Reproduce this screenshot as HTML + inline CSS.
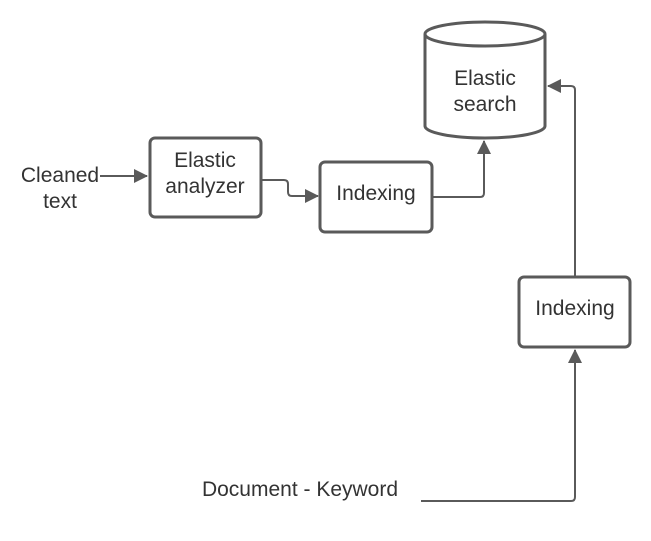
<!DOCTYPE html>
<html><head><style>body{margin:0;background:#fff}svg{display:block}</style></head><body>
<svg width="651" height="541" viewBox="0 0 651 541" xmlns="http://www.w3.org/2000/svg" font-family="Liberation Sans, sans-serif" font-size="21" fill="#333">
<defs><marker id="b" markerWidth="14" markerHeight="14" refX="13" refY="7" orient="auto" markerUnits="userSpaceOnUse"><path d="M0,0 L14,7 L0,14z" fill="#5a5a5a"/></marker></defs>
<g fill="none" stroke="#5a5a5a" stroke-width="2">
<path d="M100,176 L147,176" marker-end="url(#b)"/>
<path d="M262,180 L284,180 Q288,180 288,184 L288,192 Q288,196 292,196 L318,196" marker-end="url(#b)"/>
<path d="M433,197 L480,197 Q484,197 484,193 L484,141" marker-end="url(#b)"/>
<path d="M575,276 L575,90 Q575,86 571,86 L548,86" marker-end="url(#b)"/>
<path d="M421,501 L571,501 Q575,501 575,497 L575,350" marker-end="url(#b)"/>
</g>
<g fill="#fff" stroke="#5a5a5a" stroke-width="3">
<rect x="150" y="138" width="111" height="79" rx="5"/>
<rect x="320" y="162" width="112" height="70" rx="5"/>
<rect x="519" y="277" width="111" height="70" rx="5"/>
<path d="M425,34 L425,126 A60,12 0 0 0 545,126 L545,34"/>
<ellipse cx="485" cy="34" rx="60" ry="12"/>
</g>
<g text-anchor="middle">
<text x="60" y="182">Cleaned</text><text x="60" y="208">text</text>
<text x="205" y="167">Elastic</text><text x="205" y="193">analyzer</text>
<text x="376" y="200">Indexing</text>
<text x="575" y="315">Indexing</text>
<text x="485" y="85">Elastic</text><text x="485" y="111">search</text>
<text x="300" y="496">Document - Keyword</text>
</g>
</svg>
</body></html>
